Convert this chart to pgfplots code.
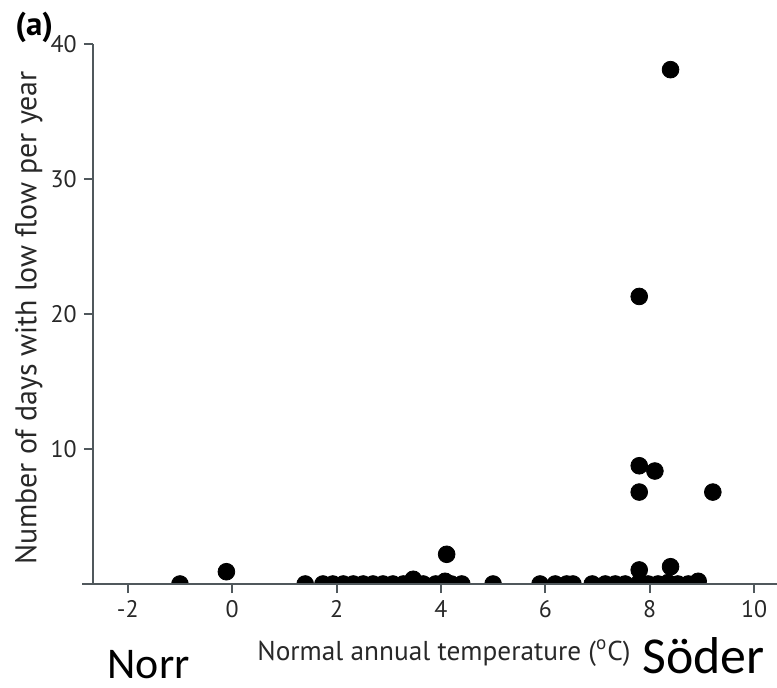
\documentclass[border=0pt]{standalone}
\usepackage{fontspec}
\setmainfont{PT Sans}
\newfontfamily\calfont{Carlito}
\usepackage{pgfplots}
\pgfplotsset{compat=1.18}
\usetikzlibrary{calc}

\definecolor{axisgray}{RGB}{80,88,92}
\definecolor{txtgray}{RGB}{40,40,40}

\begin{document}
\begin{tikzpicture}
\path[use as bounding box] (0,0) rectangle (388.5bp,344bp);
\begin{axis}[
    name=ax,
    at={(46.4bp,52bp)}, anchor=south west,
    scale only axis, width=342.1bp, height=270bp,
    xmin=-2.67, xmax=10.44, ymin=0, ymax=40,
    axis x line*=bottom, axis y line*=left,
    axis line style={axisgray, line width=1.1pt, -},
    xtick={-2,0,2,4,6,8,10}, ytick={10,20,30,40},
    tick align=outside, major tick length=4.5bp,
    tick style={axisgray, line width=1pt},
    tick label style={font=\fontsize{12}{14}\selectfont, text=txtgray},
    /pgf/number format/assume math mode=true,
    clip marker paths=true, axis on top=true,
]
% days with low flow per year vs normal annual temperature
\addplot[only marks, mark=*, mark size=4.2pt, black] coordinates {
    (-1.00,0) (-0.11,0.91)
    (1.40,0) (1.74,0) (1.93,0) (2.13,0) (2.32,0) (2.51,0) (2.70,0)
    (2.89,0) (3.08,0) (3.28,0) (3.47,0.35) (3.66,0) (3.90,0) (4.08,0.2)
    (4.20,0) (4.40,0) (4.11,2.2)
    (5.00,0) (5.90,0) (6.19,0) (6.41,0) (6.53,0) (6.90,0)
    (7.15,0) (7.34,0) (7.53,0) (7.80,0.1) (7.97,0) (8.16,0) (8.35,0.1)
    (8.54,0) (8.74,0) (8.93,0.2)
    (7.80,1.04) (8.40,1.28)
    (7.80,6.81) (9.21,6.81) (8.10,8.37) (7.80,8.76)
    (7.80,21.3) (8.40,38.1)
};
\end{axis}
\draw[axisgray, line width=1.1pt] (ax.south west) -- ++(-5.5bp,0);
\node[rotate=90, font=\fontsize{15}{18}\selectfont, text=txtgray]
    at ($(ax.west)+(-32bp,-2bp)$) {Number of days with low flow per year};
\node[anchor=base, font=\fontsize{13.7}{16}\selectfont, text=txtgray]
    at ($(ax.south west)+(175.6bp,-38bp)$) {Normal annual temperature ({\textsuperscript{o}}C)};
\node[anchor=base west, inner sep=0pt, font=\bfseries\fontsize{16.5}{19}\selectfont]
    at ($(ax.north west)+(-38.9bp,4.5bp)$) {(a)};
\node[anchor=base, inner sep=0pt, font=\calfont\fontsize{22}{26}\selectfont]
    at ($(ax.south west)+(27.9bp,-47bp)$) {Norr};
\node[anchor=base east, inner sep=0pt, font=\calfont\fontsize{26}{30}\selectfont]
    at ($(ax.south west)+(336bp,-44.5bp)$) {Söder};
\end{tikzpicture}
\end{document}
